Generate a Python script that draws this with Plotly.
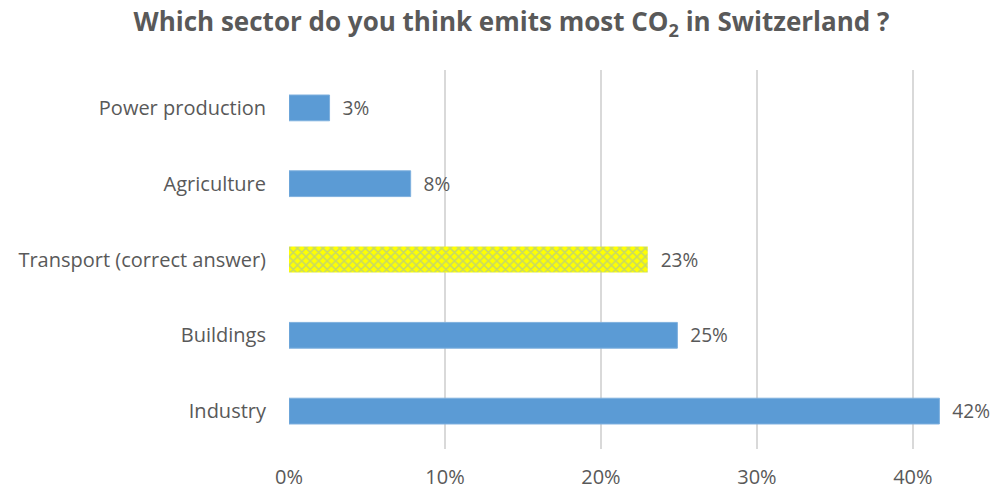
import plotly.graph_objects as go

# Survey answers, in display order bottom -> top
sectors = ["Industry", "Buildings", "Transport (correct answer)", "Agriculture", "Power production"]
shares = [41.7, 24.9, 23.0, 7.8, 2.6]
correct = "Transport (correct answer)"

tick_vals = [0, 10, 20, 30, 40]
tick_text = ["0%", "10%", "20%", "30%", "40%"]

FONT = "Open Sans"
GREY = "#595959"
BLUE = "#5b9bd5"
LABEL_FMT = "\u00a0\u00a0%{x:.0f}%"

wrong = [(s, v) for s, v in zip(sectors, shares) if s != correct]
right = [(s, v) for s, v in zip(sectors, shares) if s == correct]

fig = go.Figure()

# Wrong answers: plain blue bars
fig.add_trace(go.Bar(
    y=[s for s, _ in wrong], x=[v for _, v in wrong], orientation="h", width=0.34,
    marker=dict(color=BLUE, line=dict(color="#7eb0de", width=1)),
    texttemplate=LABEL_FMT, textposition="outside",
    textfont=dict(family=FONT, size=20, color=GREY),
    cliponaxis=False, hoverinfo="skip",
))

# Correct answer: yellow hatched bar
fig.add_trace(go.Bar(
    y=[s for s, _ in right], x=[v for _, v in right], orientation="h", width=0.34,
    marker=dict(
        color="#ffff00",
        line=dict(color="#ffff00", width=0),
        pattern=dict(shape="x", bgcolor="#ffff00", fgcolor="#8fb3c9",
                     size=6, solidity=0.45, fillmode="overlay"),
    ),
    texttemplate=LABEL_FMT, textposition="outside",
    textfont=dict(family=FONT, size=20, color=GREY),
    cliponaxis=False, hoverinfo="skip",
))

fig.update_layout(
    width=1001, height=490,
    margin=dict(l=289, r=46, t=70, b=41, autoexpand=False),
    paper_bgcolor="white", plot_bgcolor="white",
    showlegend=False, barmode="overlay",
    title=dict(
        text="<b>Which sector do you think emits most CO<sub>2</sub> in Switzerland ?</b>",
        x=0.511, xref="container", xanchor="center", y=0.955, yanchor="middle",
        font=dict(family=FONT, size=26, color=GREY),
    ),
    xaxis=dict(
        range=[0, 42.7], tickvals=tick_vals, ticktext=tick_text,
        showgrid=True, gridcolor="#d9d9d9", gridwidth=2,
        zeroline=False, showline=False, ticks="", automargin=False,
        ticklabelstandoff=14,
        tickfont=dict(family=FONT, size=20, color=GREY),
    ),
    yaxis=dict(
        categoryorder="array", categoryarray=sectors,
        showgrid=False, zeroline=False, showline=False, ticks="", automargin=False,
        ticklabelstandoff=22,
        tickfont=dict(family=FONT, size=20, color=GREY),
    ),
)

fig.write_html("out.html")
